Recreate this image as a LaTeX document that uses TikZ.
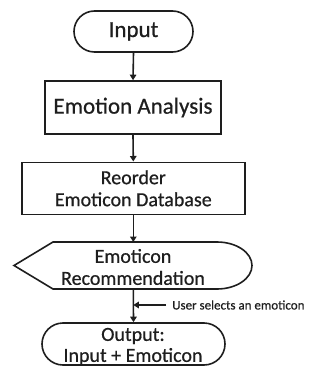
\documentclass[tikz,border=0pt]{standalone}
\usepackage{fontspec}
\setmainfont{Carlito}[FakeBold=0.6]
\usetikzlibrary{arrows.meta,shapes.misc}
\definecolor{ink}{HTML}{1E1E1E}
\tikzset{
  base/.style={draw=ink, line width=1.6pt, text=ink, inner sep=0pt, align=center},
  term/.style={base, rounded rectangle},
  procbox/.style={base, rectangle},
  plain/.style={text=ink, inner sep=0pt, align=center},
  arr/.style={draw=ink, line width=1.6pt, -{Triangle[length=5.5pt,width=6.5pt]}},
  bigtxt/.style={font=\fontsize{23}{23}\selectfont},
  midtxt/.style={font=\fontsize{20}{22}\selectfont},
  outtxt/.style={font=\fontsize{20}{21}\selectfont},
  smalltxt/.style={font=\fontsize{13}{15}\selectfont},
}
\begin{document}
\begin{tikzpicture}[x=1pt,y=-1pt]
\useasboundingbox (0,0) rectangle (320,366);
% Input
\node[term, bigtxt, minimum width=119pt, minimum height=41pt] (in) at (133.5,31.5) {Input};
% Emotion analysis
\node[procbox, bigtxt, minimum width=176pt, minimum height=53pt] (ea) at (133,107.5) {Emotion Analysis};
% Reorder
\node[procbox, midtxt, minimum width=223pt, minimum height=52pt] (ro) at (133.3,188.3) {Reorder\\Emoticon Database};
% Recommendation (display shape)
\coordinate (rectop) at (133.3,242);
\coordinate (recbot) at (133.3,289);
\draw[draw=ink, line width=1.6pt] (53,242) -- (217,242)
   arc[start angle=90, end angle=-90, x radius=35pt, y radius=23.5pt]
   -- (53,289) -- (14,265.5) -- cycle;
\node[plain, midtxt] (rec) at (133,267) {Emoticon\\Recommendation};
% Output
\node[term, minimum width=183pt, minimum height=42pt] (out) at (133.5,344) {};
\node[plain, outtxt] (outtext) at (133,346.5) {Output:\\Input + Emoticon};
% user selection
\coordinate (selstart) at (166,305);
\coordinate (selend) at (133.3,305);
\node[plain, smalltxt, anchor=west] (lbl) at (172,305) {User selects an emoticon};
% connectors
\draw[arr] (in.south) -- (ea.north);
\draw[arr] (ea.south) -- (ro.north);
\draw[arr] (ro.south) -- (rectop);
\draw[arr] (recbot) -- (out.north);
\draw[arr] (selstart) -- (selend);
\end{tikzpicture}
\end{document}
